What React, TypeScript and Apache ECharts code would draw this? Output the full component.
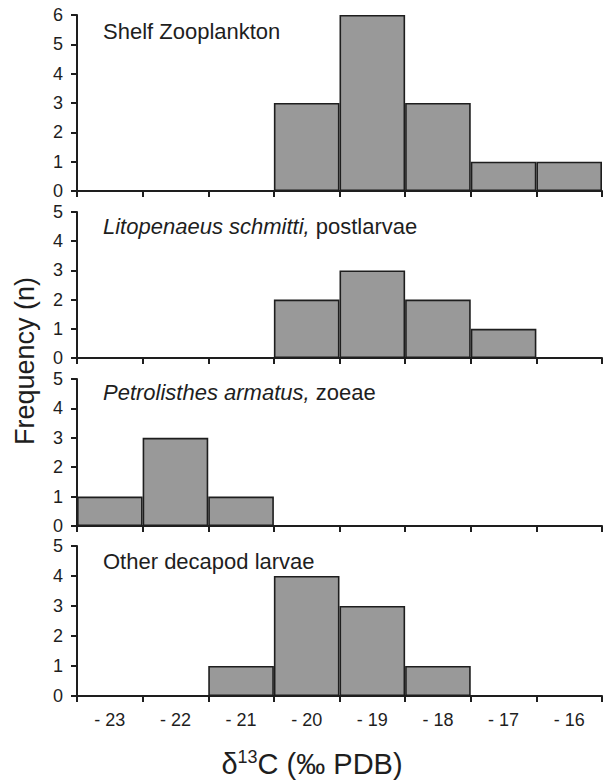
import React, { useEffect, useRef } from "react";
import * as echarts from "echarts";

const categories = ["- 23", "- 22", "- 21", "- 20", "- 19", "- 18", "- 17", "- 16"];
const shelfZooplankton = [0, 0, 0, 3, 6, 3, 1, 1];
const litopenaeus = [0, 0, 0, 2, 3, 2, 1, 0];
const petrolisthes = [1, 3, 1, 0, 0, 0, 0, 0];
const otherDecapod = [0, 0, 1, 4, 3, 1, 0, 0];
const yMax = [6, 5, 5, 5];

const FONT = "'Liberation Sans', Arial, sans-serif";
const INK = "#1e1e1e";

const grids = [
  { left: 77, top: 15, width: 525, height: 176 },
  { left: 77, top: 212, width: 525, height: 146 },
  { left: 77, top: 379, width: 525, height: 147 },
  { left: 77, top: 546, width: 525, height: 150 },
];

export default function App() {
  const ref = useRef<HTMLDivElement>(null);
  useEffect(() => {
    if (!ref.current) return;
    const chart = echarts.init(ref.current, null, { renderer: "svg" });
    const seriesData = [shelfZooplankton, litopenaeus, petrolisthes, otherDecapod];
    const option: any = {
      animation: false,
      backgroundColor: "#ffffff",
      grid: grids.map((g) => ({ ...g, containLabel: false })),
      xAxis: grids.map((_, i) => ({
        type: "category",
        gridIndex: i,
        data: categories,
        boundaryGap: true,
        axisLine: { show: true, lineStyle: { color: INK, width: 2 } },
        axisTick: { show: true, length: 6, lineStyle: { color: INK, width: 2 } },
        axisLabel: {
          show: i === 3,
          margin: 15,
          fontSize: 18,
          color: INK,
          fontFamily: FONT,
        },
        splitLine: { show: false },
      })),
      yAxis: grids.map((_, i) => ({
        type: "value",
        gridIndex: i,
        min: 0,
        max: yMax[i],
        interval: 1,
        axisLine: { show: true, lineStyle: { color: INK, width: 2 } },
        axisTick: { show: true, length: 6, lineStyle: { color: INK, width: 2 } },
        axisLabel: { margin: 14, fontSize: 18, color: INK, fontFamily: FONT },
        splitLine: { show: false },
      })),
      series: seriesData.map((d, i) => ({
        type: "bar",
        xAxisIndex: i,
        yAxisIndex: i,
        data: d.map((v) => (v === 0 ? null : v)),
        barWidth: "100%",
        barCategoryGap: "0%",
        itemStyle: { color: "#999999", borderColor: INK, borderWidth: 1.6 },
      })),
      graphic: [
        {
          type: "text",
          left: 103,
          top: 20,
          style: { text: "Shelf Zooplankton", fontSize: 22, fontFamily: FONT, fill: INK },
        },
        {
          type: "text",
          left: 103,
          top: 215,
          style: {
            text: "{i|Litopenaeus schmitti,}{n| postlarvae}",
            fontSize: 22,
            fontFamily: FONT,
            fill: INK,
            rich: {
              i: { fontStyle: "italic", fontSize: 22, fontFamily: FONT, fill: INK },
              n: { fontSize: 22, fontFamily: FONT, fill: INK },
            },
          },
        },
        {
          type: "text",
          left: 103,
          top: 381,
          style: {
            text: "{i|Petrolisthes armatus,}{n| zoeae}",
            fontSize: 22,
            fontFamily: FONT,
            fill: INK,
            rich: {
              i: { fontStyle: "italic", fontSize: 22, fontFamily: FONT, fill: INK },
              n: { fontSize: 22, fontFamily: FONT, fill: INK },
            },
          },
        },
        {
          type: "text",
          left: 103,
          top: 550,
          style: { text: "Other decapod larvae", fontSize: 22, fontFamily: FONT, fill: INK },
        },
        {
          type: "text",
          x: 25,
          y: 361,
          rotation: Math.PI / 2,
          style: {
            text: "Frequency (n)",
            fontSize: 27,
            fontFamily: FONT,
            fill: INK,
            align: "center",
            verticalAlign: "middle",
          },
        },
        {
          type: "text",
          x: 312,
          y: 763,
          style: {
            text: "{a|δ}{s|13}{a|C (‰ PDB)}",
            fontFamily: FONT,
            fill: INK,
            align: "center",
            verticalAlign: "middle",
            rich: {
              a: { fontSize: 29, fontFamily: FONT, fill: INK, lineHeight: 30, verticalAlign: "bottom" },
              s: { fontSize: 18, fontFamily: FONT, fill: INK, lineHeight: 30, verticalAlign: "top", padding: [0, 0, 10, 0] },
            },
          },
        },
      ],
    };
    chart.setOption(option);
    return () => chart.dispose();
  }, []);
  return (
    <div
      ref={ref}
      style={{ position: "absolute", left: 0, top: 0, width: 603, height: 782 }}
    />
  );
}
